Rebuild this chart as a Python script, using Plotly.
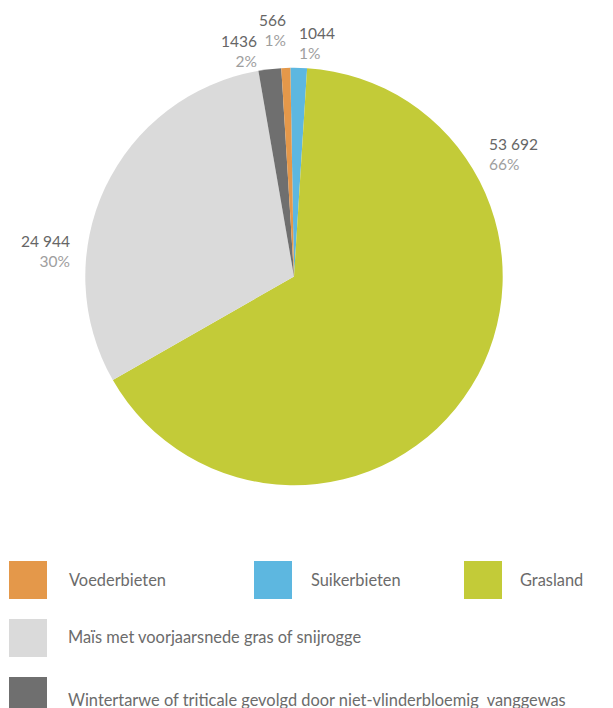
import plotly.graph_objects as go

W, H = 613, 708

# Arable area per crop (ha), listed clockwise from 12 o'clock
crops = [
    "Suikerbieten",
    "Grasland",
    "Maïs met voorjaarsnede gras of snijrogge",
    "Wintertarwe of triticale gevolgd door niet-vlinderbloemig  vanggewas",
    "Voederbieten",
]
areas = [1044, 53692, 24944, 1436, 566]
shares = ["1%", "66%", "30%", "2%", "1%"]
colors = ["#5DB7E0", "#C3CB38", "#DADADA", "#6F6F6F", "#E4984A"]

# legend order as printed under the pie
legend_order = [
    "Voederbieten",
    "Suikerbieten",
    "Grasland",
    "Maïs met voorjaarsnede gras of snijrogge",
    "Wintertarwe of triticale gevolgd door niet-vlinderbloemig  vanggewas",
]

FONT = "Lato, 'Open Sans', sans-serif"
VALUE_COLOR = "#666666"
SHARE_COLOR = "#9E9E9E"
TEXT_COLOR = "#6B6B6B"


def px(x):
    return x / W


def py(y):
    return 1 - y / H


def fmt(v):
    s = f"{v:,}"
    return s.replace(",", " ") if v >= 10000 else s.replace(",", "")


cx, cy, r = 294, 276.5, 208.7

fig = go.Figure(
    go.Pie(
        values=areas,
        labels=crops,
        marker=dict(colors=colors, line=dict(width=0)),
        sort=False,
        direction="clockwise",
        rotation=-1,
        textinfo="none",
        hoverinfo="label+value+percent",
        showlegend=False,
        domain=dict(x=[px(cx - r), px(cx + r)], y=[py(cy + r), py(cy - r)]),
    )
)

# outside labels: anchor x, middle y, side
label_pos = [
    (298, 43, "left"),
    (488, 154, "left"),
    (71, 251, "right"),
    (258, 50.5, "right"),
    (287, 30, "right"),
]

annotations = []
for v, s, (lx, ly, anc) in zip(areas, shares, label_pos):
    annotations.append(dict(
        x=px(lx), y=py(ly), xref="paper", yref="paper",
        xanchor=anc, yanchor="middle", align=anc, showarrow=False,
        borderpad=0,
        text=f"{fmt(v)}<br><span style='color:{SHARE_COLOR}'>{s}</span>",
        font=dict(family=FONT, size=15.5, color=VALUE_COLOR),
    ))

# custom legend grid: square (x0, x1, y0, y1) and text start
legend_layout = [
    ((9, 47, 561, 599), (68, 579)),
    ((254, 292, 561, 599), (310, 579)),
    ((464, 502, 561, 599), (519, 579)),
    ((9, 47, 619, 657), (67, 636)),
    ((9, 47, 677, 715), (67, 699)),
]

shapes = []
for name, ((x0, x1, y0, y1), (tx, ty)) in zip(legend_order, legend_layout):
    col = colors[crops.index(name)]
    shapes.append(dict(
        type="rect", xref="paper", yref="paper",
        x0=px(x0), x1=px(x1), y0=py(y1), y1=py(y0),
        fillcolor=col, line=dict(width=0),
    ))
    annotations.append(dict(
        x=px(tx), y=py(ty), xref="paper", yref="paper",
        xanchor="left", yanchor="middle", showarrow=False,
        borderpad=0,
        text=name, font=dict(family=FONT, size=16.4, color=TEXT_COLOR),
    ))

fig.update_layout(
    width=W, height=H,
    margin=dict(l=0, r=0, t=0, b=0),
    paper_bgcolor="white",
    plot_bgcolor="white",
    annotations=annotations,
    shapes=shapes,
)

fig.write_html("out.html")
